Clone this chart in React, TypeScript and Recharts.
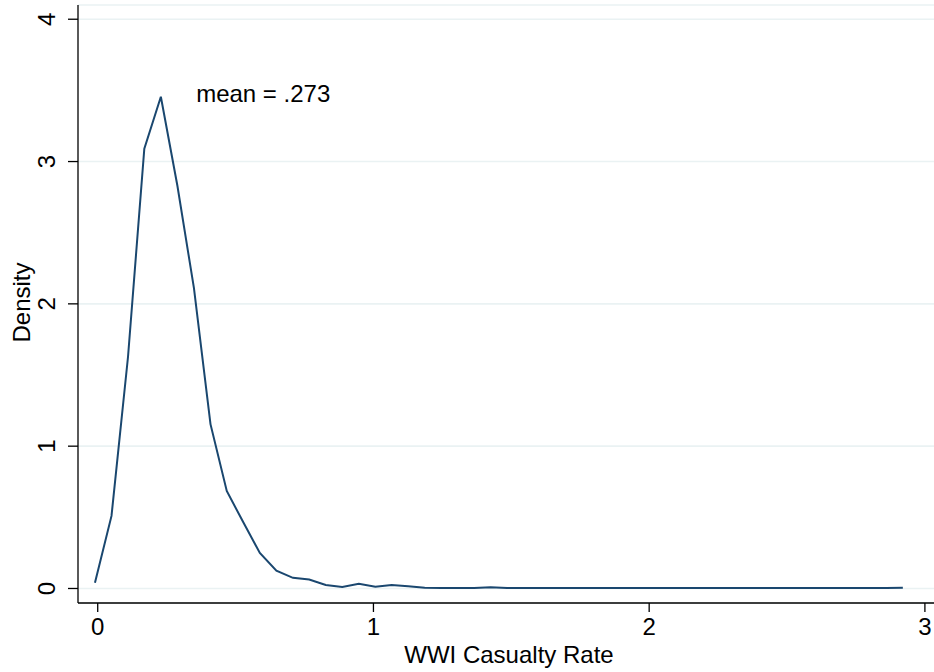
import { CartesianGrid, Label, Line, LineChart, ReferenceDot, XAxis, YAxis } from "recharts"

// kernel density estimate evaluated on a 50-point grid
const rateGrid = [
  -0.01, 0.05, 0.11, 0.169, 0.229, 0.289, 0.349, 0.409, 0.468, 0.528,
  0.588, 0.648, 0.708, 0.767, 0.827, 0.887, 0.947, 1.007, 1.066, 1.126,
  1.186, 1.246, 1.306, 1.365, 1.425, 1.485, 1.545, 1.605, 1.664, 1.724,
  1.784, 1.844, 1.904, 1.963, 2.023, 2.083, 2.143, 2.203, 2.262, 2.322,
  2.382, 2.442, 2.502, 2.561, 2.621, 2.681, 2.741, 2.801, 2.86, 2.92,
]

const densityValues = [
  0.04, 0.51, 1.63, 3.09, 3.455, 2.83, 2.11, 1.155, 0.685, 0.465,
  0.25, 0.125, 0.075, 0.063, 0.024, 0.01, 0.033, 0.012, 0.024, 0.016,
  0.005, 0.003, 0.003, 0.004, 0.008, 0.004, 0.003, 0.003, 0.003, 0.003,
  0.003, 0.003, 0.003, 0.003, 0.003, 0.003, 0.003, 0.003, 0.003, 0.003,
  0.003, 0.003, 0.003, 0.003, 0.003, 0.003, 0.003, 0.003, 0.003, 0.006,
]

const xTicks = [0, 1, 2, 3]
const yTicks = [0, 1, 2, 3, 4]

const meanRate = 0.273

const data = rateGrid.map((x, i) => ({ x, density: densityValues[i] }))

const FONT = "Arial, 'Liberation Sans', Helvetica, sans-serif"
const NAVY = "#1a476f"

const XTick = (props: any) => (
  <text x={props.x} y={props.y + 21} textAnchor="middle" fontSize={24} fontFamily={FONT} fill="#000">
    {props.payload.value}
  </text>
)

const YTick = (props: any) => {
  const bx = props.x - 11
  return (
    <text
      x={bx}
      y={props.y}
      transform={`rotate(-90, ${bx}, ${props.y})`}
      textAnchor="middle"
      fontSize={24}
      fontFamily={FONT}
      fill="#000"
    >
      {props.payload.value}
    </text>
  )
}

export default function App() {
  return (
    <div style={{ position: "absolute", left: 0, top: 0, background: "#fff" }}>
      <LineChart width={934} height={672} data={data} margin={{ top: 5, right: 0, left: 0, bottom: 0 }}>
        <CartesianGrid horizontal vertical={false} stroke="#eaf2f3" strokeWidth={1.6} />
        <XAxis
          dataKey="x"
          type="number"
          domain={[-0.0715, 3.033]}
          ticks={xTicks}
          allowDataOverflow
          height={69}
          tickSize={9}
          stroke="#000"
          strokeWidth={1.3}
          tick={XTick}
        >
          <Label
            content={() => (
              <text x={509} y={663} textAnchor="middle" fontSize={24} fontFamily={FONT} fill="#000">
                WWI Casualty Rate
              </text>
            )}
          />
        </XAxis>
        <YAxis
          type="number"
          domain={[-0.102, 4.1]}
          ticks={yTicks}
          allowDataOverflow
          width={78}
          tickSize={10}
          stroke="#000"
          strokeWidth={1.3}
          tick={YTick}
        >
          <Label
            content={() => (
              <text
                x={29.5}
                y={302.5}
                transform="rotate(-90, 29.5, 302.5)"
                textAnchor="middle"
                fontSize={24}
                fontFamily={FONT}
                fill="#000"
              >
                Density
              </text>
            )}
          />
        </YAxis>
        <Line
          type="linear"
          dataKey="density"
          stroke={NAVY}
          strokeWidth={2}
          dot={false}
          isAnimationActive={false}
        />
        <ReferenceDot
          x={0.357}
          y={3.42}
          r={0}
          fill="none"
          stroke="none"
          label={{
            content: (p: any) => (
              <text x={p.viewBox.x} y={p.viewBox.y} fontSize={24} fontFamily={FONT} fill="#000">
                {`mean = ${String(meanRate).replace(/^0/, "")}`}
              </text>
            ),
          }}
        />
      </LineChart>
    </div>
  )
}
